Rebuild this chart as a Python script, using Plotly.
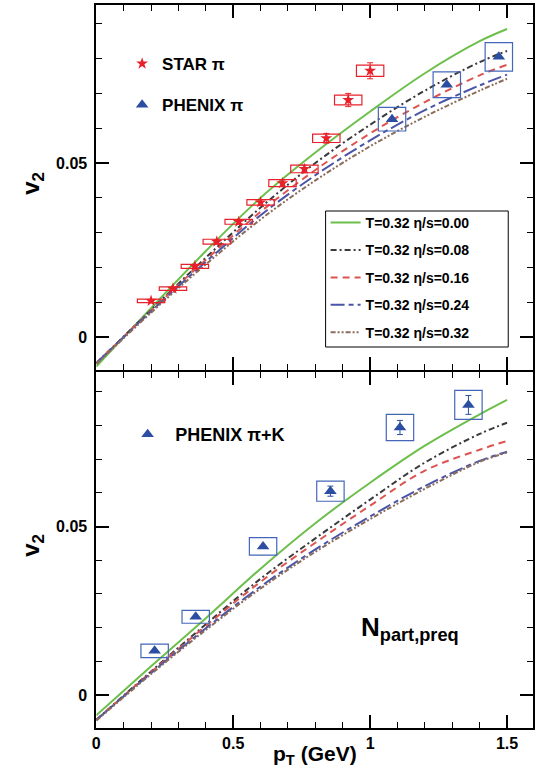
import plotly.graph_objects as go

# ---------------- data ----------------
pt_grid = [0.0, 0.2, 0.4, 0.6, 0.8, 1.0, 1.2, 1.4, 1.5]
curve_labels = ["T=0.32 η/s=0.00", "T=0.32 η/s=0.08", "T=0.32 η/s=0.16",
                "T=0.32 η/s=0.24", "T=0.32 η/s=0.32"]

# top panel (pions)
top_v2_000 = [-0.0085, 0.0083, 0.0247, 0.0400, 0.0530, 0.0648, 0.0758, 0.0850, 0.0885]
top_v2_008 = [-0.0075, 0.0078, 0.0228, 0.0372, 0.0500, 0.0610, 0.0708, 0.0790, 0.0822]
top_v2_016 = [-0.0075, 0.0076, 0.0222, 0.0360, 0.0480, 0.0585, 0.0675, 0.0752, 0.0782]
top_v2_024 = [-0.0075, 0.0074, 0.0216, 0.0350, 0.0465, 0.0565, 0.0652, 0.0723, 0.0754]
top_v2_032 = [-0.0078, 0.0070, 0.0209, 0.0338, 0.0450, 0.0548, 0.0633, 0.0708, 0.0742]

# bottom panel (pi+K)
bot_v2_000 = [-0.0060, 0.0085, 0.0228, 0.0375, 0.0510, 0.0630, 0.0740, 0.0833, 0.0876]
bot_v2_008 = [-0.0074, 0.0070, 0.0210, 0.0345, 0.0465, 0.0580, 0.0690, 0.0775, 0.0808]
bot_v2_016 = [-0.0074, 0.0068, 0.0205, 0.0336, 0.0452, 0.0562, 0.0666, 0.0728, 0.0754]
bot_v2_024 = [-0.0074, 0.0065, 0.0198, 0.0322, 0.0432, 0.0530, 0.0620, 0.0695, 0.0722]
bot_v2_032 = [-0.0076, 0.0062, 0.0193, 0.0316, 0.0425, 0.0522, 0.0612, 0.0692, 0.0720]

# STAR pi
star_pt = [0.20, 0.28, 0.36, 0.44, 0.52, 0.60, 0.68, 0.76, 0.84, 0.92, 1.00]
star_v2 = [0.0104, 0.0139, 0.0203, 0.0274, 0.0331, 0.0387, 0.0442, 0.0483, 0.0571, 0.0681, 0.0765]
star_err = [0.0003, 0.0003, 0.0004, 0.0005, 0.0006, 0.0008, 0.0009, 0.0011, 0.0014, 0.0019, 0.0023]
star_sys = [0.0005, 0.0005, 0.0006, 0.0007, 0.0007, 0.0008, 0.0010, 0.0011, 0.0012, 0.0014, 0.0016]
star_dx = 0.05

# PHENIX pi
phx_pt = [1.08, 1.28, 1.47]
phx_v2 = [0.0626, 0.0725, 0.0805]
phx_sys = [0.0034, 0.0037, 0.0041]
phx_dx = 0.05

# PHENIX pi+K
phk_pt = [0.213, 0.363, 0.609, 0.855, 1.109, 1.359]
phk_v2 = [0.0131, 0.0232, 0.0441, 0.0605, 0.0794, 0.0861]
phk_err = [0.0, 0.0, 0.0, 0.0015, 0.0021, 0.0028]
phk_sys = [0.0020, 0.0019, 0.0026, 0.0030, 0.0039, 0.0043]
phk_dx = 0.05

# ---------------- styles ----------------
line_colors = ["#6cbf4a", "#3a3a3a", "#dc5450", "#4a55a8", "#8c6c5a"]
line_dashes = ["solid", "6px,3px,2px,3px", "7px,5px", "14px,4px,5px,4px", "5px,2px,2px,2px,2px,2px"]
RED = "#e8202a"
BLUE = "#2b4ea2"
BOXBLUE = "#4466b8"
FONT = "Liberation Sans"

fig = go.Figure()

top_curves = [top_v2_000, top_v2_008, top_v2_016, top_v2_024, top_v2_032]
bot_curves = [bot_v2_000, bot_v2_008, bot_v2_016, bot_v2_024, bot_v2_032]

for i, (lab, ys) in enumerate(zip(curve_labels, top_curves)):
    fig.add_trace(go.Scatter(
        x=pt_grid, y=ys, mode="lines", name=lab, xaxis="x2", yaxis="y2",
        line=dict(color=line_colors[i], width=2, dash=line_dashes[i], shape="spline"),
        legend="legend", legendgroup=f"g{i}"))
for i, (lab, ys) in enumerate(zip(curve_labels, bot_curves)):
    fig.add_trace(go.Scatter(
        x=pt_grid, y=ys, mode="lines", name=lab, xaxis="x", yaxis="y",
        line=dict(color=line_colors[i], width=2, dash=line_dashes[i], shape="spline"),
        showlegend=False))

# systematic boxes
def add_boxes(xs, ys, sys, dx, color, xref, yref):
    for xv, yv, s in zip(xs, ys, sys):
        fig.add_shape(type="rect", xref=xref, yref=yref,
                      x0=xv - dx, x1=xv + dx, y0=yv - s, y1=yv + s,
                      line=dict(color=color, width=1.2), fillcolor="rgba(0,0,0,0)")

add_boxes(star_pt, star_v2, star_sys, star_dx, RED, "x2", "y2")
add_boxes(phx_pt, phx_v2, phx_sys, phx_dx, BOXBLUE, "x2", "y2")
add_boxes(phk_pt, phk_v2, phk_sys, phk_dx, BOXBLUE, "x", "y")

fig.add_trace(go.Scatter(
    x=star_pt, y=star_v2, mode="markers", name="STAR π", xaxis="x2", yaxis="y2",
    marker=dict(symbol="star", size=9, color=RED, line=dict(width=0)),
    error_y=dict(type="data", array=star_err, color=RED, thickness=1, width=3),
    legend="legend2", legendgroup="s1"))
fig.add_trace(go.Scatter(
    x=phx_pt, y=phx_v2, mode="markers", name="PHENIX π", xaxis="x2", yaxis="y2",
    marker=dict(symbol="triangle-up", size=11, color=BLUE, line=dict(width=0)),
    legend="legend2", legendgroup="s2"))
fig.add_trace(go.Scatter(
    x=phk_pt, y=phk_v2, mode="markers", name="PHENIX π+K", xaxis="x", yaxis="y",
    marker=dict(symbol="triangle-up", size=11, color=BLUE, line=dict(width=0)),
    error_y=dict(type="data", array=phk_err, color=BLUE, thickness=1, width=3),
    legend="legend3"))

W, H = 540, 770
LW = 1.8
xl, xr = 93 / W, 533 / W
split_px = 371
dom_top = [(H - split_px + LW / 2) / H, (H - 5) / H]
dom_bot = [(H - 728) / H, (H - split_px - LW / 2) / H]

axis_common = dict(showline=True, linecolor="black", linewidth=LW, mirror="allticks",
                   ticks="inside", tickcolor="black", tickwidth=1.5, showgrid=False,
                   zeroline=False)
tickfont = dict(family=FONT, size=16, color="black", weight="bold")
minor_x = dict(dtick=0.1, tick0=0, ticklen=6, ticks="inside", tickcolor="black", tickwidth=1.2)
minor_y = dict(dtick=0.01, tick0=0, ticklen=6, ticks="inside", tickcolor="black", tickwidth=1.2)

# frame of the model-curve legend
fig.add_shape(type="rect", xref="paper", yref="paper",
              x0=324 / W, x1=508 / W, y0=(H - 347) / H, y1=(H - 211) / H,
              line=dict(color="black", width=1), fillcolor="white", layer="below")

fig.update_layout(
    width=W, height=H, margin=dict(l=0, r=0, t=0, b=0),
    paper_bgcolor="white", plot_bgcolor="white",
    xaxis=dict(domain=[xl, xr], range=[0, 1.595], anchor="y", tickvals=[0, 0.5, 1, 1.5],
               ticktext=["0", "0.5", "1", "1.5"], ticklen=13, tickfont=tickfont,
               minor=minor_x, **axis_common),
    yaxis=dict(domain=dom_bot, range=[-0.0098, 0.0959], anchor="x", tickvals=[0, 0.05],
               ticktext=["0", "0.05"], ticklen=13, tickfont=tickfont, ticklabelstandoff=4,
               minor=minor_y, **axis_common),
    xaxis2=dict(domain=[xl, xr], range=[0, 1.595], anchor="y2", matches="x", tickvals=[0, 0.5, 1, 1.5],
                showticklabels=False, ticklen=13, minor=minor_x, **axis_common),
    yaxis2=dict(domain=dom_top, range=[-0.0095, 0.0954], anchor="x2", tickvals=[0, 0.05],
                ticktext=["0", "0.05"], ticklen=13, tickfont=tickfont, ticklabelstandoff=4,
                minor=minor_y, **axis_common),
    legend=dict(x=324 / W, y=(H - 207) / H, xanchor="left", yanchor="top",
                bgcolor="rgba(0,0,0,0)", borderwidth=0,
                font=dict(family=FONT, size=14, color="black", weight="bold"),
                traceorder="grouped", tracegroupgap=6.2, itemwidth=30),
    legend2=dict(x=119 / W, y=(H - 46) / H, xanchor="left", yanchor="top",
                 bgcolor="rgba(0,0,0,0)", borderwidth=0,
                 font=dict(family=FONT, size=17, color="black", weight="bold"),
                 traceorder="grouped", tracegroupgap=16, itemwidth=30),
    legend3=dict(x=117 / W, y=(H - 416) / H, xanchor="left", yanchor="top",
                 bgcolor="rgba(0,0,0,0)", borderwidth=0,
                 font=dict(family=FONT, size=18, color="black", weight="bold"), itemwidth=45),
    annotations=[
        dict(text="<b>v<sub>2</sub></b>", x=28 / W, y=(H - 183) / H, xref="paper", yref="paper",
             xanchor="center", yanchor="middle",
             showarrow=False, textangle=-90, font=dict(family=FONT, size=24, color="black")),
        dict(text="<b>v<sub>2</sub></b>", x=28 / W, y=(H - 545) / H, xref="paper", yref="paper",
             xanchor="center", yanchor="middle",
             showarrow=False, textangle=-90, font=dict(family=FONT, size=24, color="black")),
        dict(text="<b>p<sub>T</sub> (GeV)</b>", x=313 / W, y=(H - 755) / H, xref="paper", yref="paper",
             xanchor="center", yanchor="middle",
             showarrow=False, font=dict(family=FONT, size=21, color="black")),
        dict(text="<b>N<sub>part,preq</sub></b>", x=358 / W, y=(H - 628) / H, xref="paper", yref="paper",
             xanchor="left", yanchor="middle", showarrow=False,
             font=dict(family=FONT, size=26, color="black")),
    ],
)

fig.write_html("out.html")
